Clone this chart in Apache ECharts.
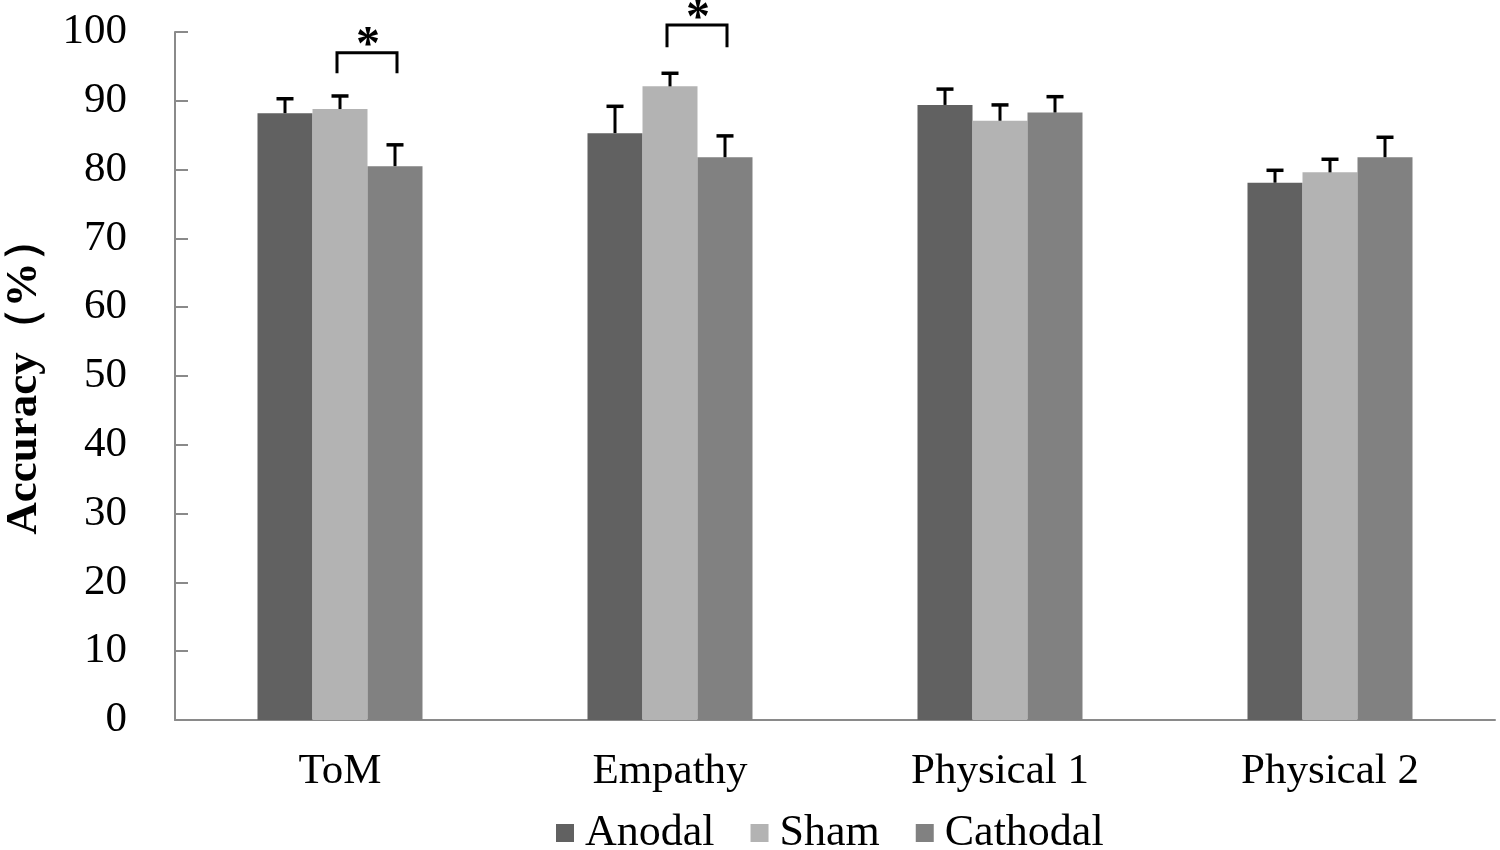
<!DOCTYPE html>
<html>
<head>
<meta charset="utf-8">
<script src="https://cdn.jsdelivr.net/npm/echarts@6/dist/echarts.min.js"></script>
<style>
html, body {margin: 0; padding: 0; background: #fff;}
#main {width: 1500px; height: 850px;}
</style>
</head>
<body>
<div id="main"></div>
<script>
// 数据
var categories = ['ToM', 'Empathy', 'Physical 1', 'Physical 2'];
var groupNames = ['Anodal', 'Sham', 'Cathodal'];
var anodal = [88.2, 85.3, 89.4, 78.1];
var sham = [88.8, 92.1, 87.1, 79.6];
var cathodal = [80.5, 81.8, 88.3, 81.8];
var anodalErr = [2.1, 3.9, 2.3, 1.8];
var shamErr = [1.9, 1.9, 2.3, 1.9];
var cathodalErr = [3.1, 3.1, 2.3, 2.9];
var yTicks = [0, 10, 20, 30, 40, 50, 60, 70, 80, 90, 100];
// 显著性标记: [类别, 起始组, 结束组, 下端, 上端]
var sigMarks = [[0, 1, 2, 94.0, 97.0], [1, 1, 2, 97.8, 101.0]];

var colors = ['#616161', '#b3b3b3', '#818181'];
var gapRatio = 0.5;
var font = '"Liberation Serif", "Times New Roman", serif';

var chart = echarts.init(document.getElementById('main'));

var values = [anodal, sham, cathodal];
var errs = [anodalErr, shamErr, cathodalErr];

function barOffset(api, s) {
    var band = api.size([1, 0])[0];
    var w = band * (1 - gapRatio) / 3;
    return (s - 1) * w;
}

var series = [];
for (var s = 0; s < 3; s++) {
    series.push({
        name: groupNames[s],
        type: 'bar',
        data: values[s],
        barGap: '0%',
        barCategoryGap: (gapRatio * 100) + '%',
        itemStyle: {color: colors[s]},
        z: 2
    });
}
for (var s2 = 0; s2 < 3; s2++) {
    (function (s) {
        series.push({
            type: 'custom',
            name: 'err' + s,
            clip: false,
            z: 3,
            data: values[s].map(function (v, i) { return [i, v, errs[s][i]]; }),
            renderItem: function (params, api) {
                var i = api.value(0), v = api.value(1), e = api.value(2);
                var p0 = api.coord([i, v]);
                var p1 = api.coord([i, v + e]);
                var x = p0[0] + barOffset(api, s);
                var st = {stroke: '#000', lineWidth: 3};
                return {
                    type: 'group',
                    children: [
                        {type: 'line', shape: {x1: x, y1: p0[1], x2: x, y2: p1[1]}, style: st},
                        {type: 'line', shape: {x1: x - 8.5, y1: p1[1], x2: x + 8.5, y2: p1[1]}, style: {stroke: '#000', lineWidth: 3.5}}
                    ]
                };
            }
        });
    })(s2);
}
series.push({
    type: 'custom',
    name: 'sig',
    clip: false,
    z: 3,
    data: sigMarks,
    renderItem: function (params, api) {
        var i = api.value(0);
        var a = api.value(1), b = api.value(2);
        var lo = api.value(3), hi = api.value(4);
        var c = api.coord([i, lo]);
        var t = api.coord([i, hi]);
        var xa = c[0] + barOffset(api, a) - 3;
        var xb = c[0] + barOffset(api, b) + 2;
        return {
            type: 'group',
            children: [
                {type: 'polyline', shape: {points: [[xa, c[1]], [xa, t[1]], [xb, t[1]], [xb, c[1]]]},
                 style: {stroke: '#000', lineWidth: 3, fill: null}},
                {type: 'text', style: {text: '*', x: (xa + xb) / 2 + 1, y: t[1] + 18, align: 'center',
                 verticalAlign: 'bottom', font: 'bold 48px ' + font, fill: '#000'}}
            ]
        };
    }
});

chart.setOption({
    animation: false,
    textStyle: {fontFamily: font},
    grid: {left: 175, right: 5, top: 32, bottom: 130, containLabel: false, outerBoundsMode: 'none'},
    legend: {
        data: groupNames.map(function (n) { return {name: n, icon: 'rect'}; }),
        left: 551,
        top: 806,
        itemWidth: 18,
        itemHeight: 18,
        itemGap: 36,
        textStyle: {fontSize: 44, color: '#000', fontFamily: font, padding: [0, 0, 0, 6]}
    },
    xAxis: {
        type: 'category',
        data: categories,
        axisLine: {lineStyle: {color: '#8a8a8a', width: 2}},
        axisTick: {show: false},
        axisLabel: {fontSize: 43, color: '#000', margin: 30, fontFamily: font}
    },
    yAxis: {
        type: 'value',
        min: yTicks[0],
        max: yTicks[yTicks.length - 1],
        interval: 10,
        name: 'Accuracy（%）',
        nameLocation: 'middle',
        nameGap: 128,
        nameTextStyle: {fontSize: 45, fontWeight: 'bold', color: '#000', fontFamily: font},
        axisLine: {show: true, lineStyle: {color: '#8a8a8a', width: 2}},
        axisTick: {show: true, inside: true, length: 13, lineStyle: {color: '#8a8a8a', width: 2}},
        splitLine: {show: false},
        axisLabel: {fontSize: 43, color: '#000', margin: 48, fontFamily: font}
    },
    series: series
});
</script>
</body>
</html>
